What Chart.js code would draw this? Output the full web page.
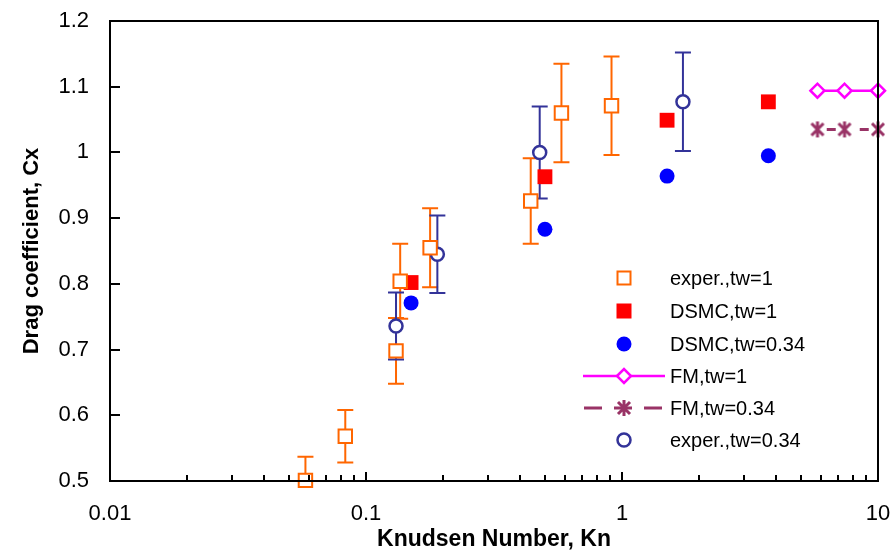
<!DOCTYPE html>
<html>
<head>
<meta charset="utf-8">
<script src="https://cdn.jsdelivr.net/npm/chart.js@4/dist/chart.umd.min.js"></script>
<style>
html, body { margin: 0; padding: 0; background: #fff; }
</style>
</head>
<body>
<canvas id="dragChart" width="891" height="553"></canvas>
<script>
'use strict'

// Experiment, tw=1 (orange open squares with error bars).
const knExpTw1 = [0.058, 0.083, 0.131, 0.136, 0.178, 0.44, 0.58, 0.91];
const cxExpTw1 = [0.501, 0.568, 0.698, 0.804, 0.855, 0.926, 1.060, 1.071];
const errExpTw1 = [0.036, 0.04, 0.05, 0.057, 0.06, 0.065, 0.075, 0.075];

// Experiment, tw=0.34 (navy open circles with error bars).
const knExpTw034 = [0.131, 0.19, 0.477, 1.73];
const cxExpTw034 = [0.736, 0.845, 1.0, 1.077];
const errExpTw034 = [0.051, 0.059, 0.07, 0.075];

// DSMC results.
const knDsmc = [0.15, 0.5, 1.5, 3.73];
const cxDsmcTw1 = [0.802, 0.963, 1.049, 1.077];
const cxDsmcTw034 = [0.771, 0.883, 0.964, 0.995];

// Free molecular limit.
const knFm = [5.8, 7.4, 10];
const cxFmTw1 = [1.094, 1.094, 1.094];
const cxFmTw034 = [1.035, 1.035, 1.035];

const xTicks = [0.01, 0.1, 1, 10];
const legendLabels = ['exper.,tw=1', 'DSMC,tw=1', 'DSMC,tw=0.34', 'FM,tw=1', 'FM,tw=0.34', 'exper.,tw=0.34'];

const FONT = "'Liberation Sans', Arial, Helvetica, sans-serif";
const ORANGE = '#FF6600';
const NAVY = '#333399';
const RED = '#FF0000';
const BLUE = '#0000FF';
const MAGENTA = '#FF00FF';
const PLUM = '#993366';

/**
 * Builds a small canvas with a six-spoke asterisk, used as a point style.
 */
function makeAsterisk() {
    const c = document.createElement('canvas');
    c.width = 20;
    c.height = 20;
    const g = c.getContext('2d');
    g.strokeStyle = PLUM;
    g.lineWidth = 3;
    g.beginPath();
    g.moveTo(4, 4); g.lineTo(16, 16);
    g.moveTo(16, 4); g.lineTo(4, 16);
    g.moveTo(10, 2); g.lineTo(10, 18);
    g.stroke();
    return c;
}
const asterisk = makeAsterisk();

function toPoints(xs, ys) {
    return xs.map((x, i) => ({x: x, y: ys[i]}));
}

// Error bars are drawn under the markers, through the chart scales.
const errorBarPlugin = {
    id: 'errorBars',
    beforeDatasetsDraw(chart) {
        const ctx = chart.ctx;
        const xs = chart.scales.x;
        const ys = chart.scales.y;
        const area = chart.chartArea;
        const sets = [
            [knExpTw1, cxExpTw1, errExpTw1, ORANGE],
            [knExpTw034, cxExpTw034, errExpTw034, NAVY]
        ];
        ctx.save();
        ctx.beginPath();
        ctx.rect(area.left, area.top, area.right - area.left, area.bottom - area.top);
        ctx.clip();
        ctx.lineWidth = 2;
        sets.forEach(([kn, cx, err, color]) => {
            ctx.strokeStyle = color;
            for (let i = 0; i < kn.length; i++) {
                const px = xs.getPixelForValue(kn[i]);
                const top = ys.getPixelForValue(cx[i] + err[i]);
                const bot = ys.getPixelForValue(cx[i] - err[i]);
                ctx.beginPath();
                ctx.moveTo(px, top); ctx.lineTo(px, bot);
                ctx.moveTo(px - 8, top); ctx.lineTo(px + 8, top);
                ctx.moveTo(px - 8, bot); ctx.lineTo(px + 8, bot);
                ctx.stroke();
            }
        });
        ctx.restore();
    }
};

// Frame plus inward tick marks.
const framePlugin = {
    id: 'frame',
    afterDatasetsDraw(chart) {
        const ctx = chart.ctx;
        const a = chart.chartArea;
        const xs = chart.scales.x;
        const ys = chart.scales.y;
        ctx.save();
        ctx.strokeStyle = '#000';
        ctx.lineWidth = 2;
        ctx.strokeRect(a.left, a.top, a.right - a.left, a.bottom - a.top);
        ctx.beginPath();
        ys.ticks.forEach((t) => {
            const py = Math.round(ys.getPixelForValue(t.value));
            ctx.moveTo(a.left, py); ctx.lineTo(a.left + 10, py);
        });
        for (let d = 0.01; d < 10; d *= 10) {
            for (let m = 1; m <= 10; m++) {
                const px = Math.round(xs.getPixelForValue(d * m));
                const len = (m === 1 || m === 10) ? 9 : 6;
                ctx.moveTo(px, a.bottom); ctx.lineTo(px, a.bottom - len);
            }
        }
        ctx.stroke();
        ctx.restore();
    }
};

// Legend without a frame, in the lower right of the plot.
const legendPlugin = {
    id: 'customLegend',
    afterDraw(chart) {
        const ctx = chart.ctx;
        const mx = 624;
        const tx = 670;
        const rowY = [278, 311, 344, 376, 408, 440];
        ctx.save();
        ctx.font = '20px ' + FONT;
        ctx.fillStyle = '#000';
        ctx.textBaseline = 'middle';
        legendLabels.forEach((label, i) => {
            ctx.fillText(label, tx, rowY[i] + 1);
        });

        // exper., tw=1
        ctx.lineWidth = 2;
        ctx.strokeStyle = ORANGE;
        ctx.fillStyle = '#fff';
        ctx.fillRect(mx - 6.5, rowY[0] - 6.5, 13, 13);
        ctx.strokeRect(mx - 6.5, rowY[0] - 6.5, 13, 13);
        // DSMC, tw=1
        ctx.fillStyle = RED;
        ctx.fillRect(mx - 7.5, rowY[1] - 7.5, 15, 15);
        // DSMC, tw=0.34
        ctx.fillStyle = BLUE;
        ctx.beginPath();
        ctx.arc(mx, rowY[2], 7.5, 0, Math.PI * 2);
        ctx.fill();
        // FM, tw=1
        ctx.strokeStyle = MAGENTA;
        ctx.lineWidth = 2.5;
        ctx.beginPath();
        ctx.moveTo(583, rowY[3]); ctx.lineTo(665, rowY[3]);
        ctx.stroke();
        ctx.fillStyle = '#fff';
        ctx.beginPath();
        ctx.moveTo(mx - 7, rowY[3]); ctx.lineTo(mx, rowY[3] - 7);
        ctx.lineTo(mx + 7, rowY[3]); ctx.lineTo(mx, rowY[3] + 7);
        ctx.closePath();
        ctx.fill();
        ctx.stroke();
        // FM, tw=0.34
        ctx.strokeStyle = PLUM;
        ctx.lineWidth = 3;
        ctx.setLineDash([18, 12]);
        ctx.beginPath();
        ctx.moveTo(584, rowY[4]); ctx.lineTo(662, rowY[4]);
        ctx.stroke();
        ctx.setLineDash([]);
        ctx.drawImage(asterisk, mx - 10, rowY[4] - 10);
        // exper., tw=0.34
        ctx.strokeStyle = NAVY;
        ctx.lineWidth = 2.5;
        ctx.fillStyle = '#fff';
        ctx.beginPath();
        ctx.arc(mx, rowY[5], 6.5, 0, Math.PI * 2);
        ctx.fill();
        ctx.stroke();
        ctx.restore();
    }
};

function drawChart() {
    const ctx = document.getElementById('dragChart').getContext('2d');
    const dragChart = new Chart(ctx, {
        type: 'scatter',
        data: {
            datasets: [{
                label: legendLabels[3],
                data: toPoints(knFm, cxFmTw1),
                showLine: true,
                borderColor: MAGENTA,
                borderWidth: 2.5,
                pointStyle: 'rectRot',
                pointRadius: 7,
                pointBorderWidth: 2.5,
                pointBackgroundColor: '#fff',
                pointBorderColor: MAGENTA,
                clip: false
            }, {
                label: legendLabels[4],
                data: toPoints(knFm, cxFmTw034),
                showLine: true,
                borderColor: PLUM,
                borderWidth: 3,
                borderDash: [9, 24],
                borderDashOffset: 23.7,
                pointStyle: asterisk,
                clip: false
            }, {
                label: legendLabels[0],
                data: toPoints(knExpTw1, cxExpTw1),
                pointStyle: 'rect',
                pointRadius: 9.5,
                pointBorderWidth: 2,
                pointBackgroundColor: '#fff',
                pointBorderColor: ORANGE,
                clip: false
            }, {
                label: legendLabels[5],
                data: toPoints(knExpTw034, cxExpTw034),
                pointStyle: 'circle',
                pointRadius: 6.5,
                pointBorderWidth: 2.5,
                pointBackgroundColor: '#fff',
                pointBorderColor: NAVY,
                clip: false
            }, {
                label: legendLabels[1],
                data: toPoints(knDsmc, cxDsmcTw1),
                pointStyle: 'rect',
                pointRadius: 10.5,
                pointBorderWidth: 0,
                pointBackgroundColor: RED,
                pointBorderColor: RED,
                clip: false
            }, {
                label: legendLabels[2],
                data: toPoints(knDsmc, cxDsmcTw034),
                pointStyle: 'circle',
                pointRadius: 7.5,
                pointBorderWidth: 0,
                pointBackgroundColor: BLUE,
                pointBorderColor: BLUE,
                clip: false
            }]
        },
        options: {
            responsive: false,
            animation: false,
            events: [],
            layout: {
                padding: {top: 21, right: 13, left: 0, bottom: 0}
            },
            plugins: {
                legend: {display: false},
                tooltip: {enabled: false}
            },
            scales: {
                x: {
                    type: 'logarithmic',
                    min: 0.01,
                    max: 10,
                    afterBuildTicks: (scale) => {
                        scale.ticks = xTicks.map((v) => ({value: v}));
                    },
                    afterFit: (scale) => {
                        scale.height = 72;
                        scale.paddingLeft = 0;
                        scale.paddingRight = 0;
                    },
                    grid: {display: false, drawTicks: false},
                    border: {display: false},
                    ticks: {
                        autoSkip: false,
                        maxRotation: 0,
                        padding: 20,
                        color: '#000',
                        font: {family: FONT, size: 22},
                        callback: (value) => value.toString()
                    },
                    title: {
                        display: true,
                        text: 'Knudsen Number, Kn',
                        color: '#000',
                        font: {family: FONT, size: 23, weight: 'bold'},
                        padding: {top: 0, bottom: 0}
                    }
                },
                y: {
                    min: 0.5,
                    max: 1.2,
                    afterFit: (scale) => {
                        scale.width = 110;
                        scale.paddingTop = 0;
                        scale.paddingBottom = 0;
                    },
                    grid: {display: false, drawTicks: false},
                    border: {display: false},
                    ticks: {
                        stepSize: 0.1,
                        padding: 21,
                        color: '#000',
                        font: {family: FONT, size: 22},
                        callback: (value) => Number(value.toFixed(1)).toString()
                    },
                    title: {
                        display: true,
                        text: 'Drag coefficient, Cx',
                        color: '#000',
                        font: {family: FONT, size: 22, weight: 'bold'},
                        padding: {top: 19, bottom: 0}
                    }
                }
            }
        },
        plugins: [errorBarPlugin, framePlugin, legendPlugin]
    });
}

window.onload = function() {
    drawChart();
}
</script>
</body>
</html>
